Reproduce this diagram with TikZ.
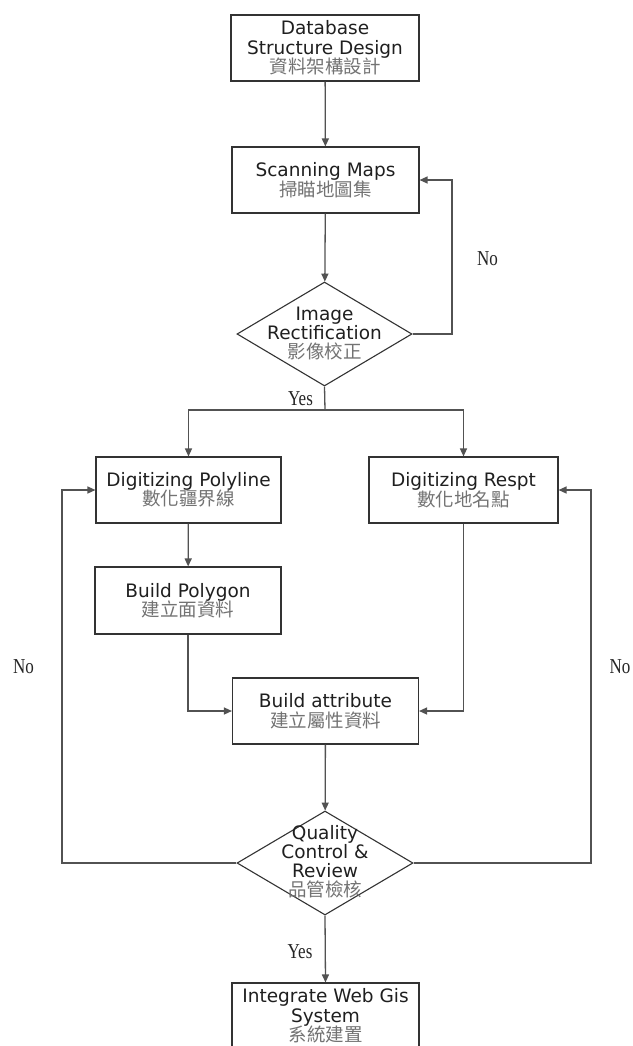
\documentclass[tikz,border=0pt]{standalone}
\usepackage{fontspec}
\setmainfont{DejaVu Sans}
\newfontfamily\cjk{Noto Sans CJK TC}
\newfontfamily\lblfont{Liberation Serif}
\usetikzlibrary{arrows.meta,shapes.geometric}

% Chinese subtitle inside a step
\newcommand{\zh}[1]{{\cjk\color{black!55}#1}}
% tall narrow serif answer labels
\newcommand{\ans}[1]{\scalebox{1}[1.25]{#1}}

\tikzset{
  stepbox/.style={draw=black!80, line width=1.1pt, fill=white,
    minimum width=187pt, minimum height=66pt, inner sep=0pt,
    align=center, text=black!88, font=\fontsize{18.5}{19.5}\selectfont},
  decision/.style={diamond, draw=black!80, line width=1.1pt, fill=white,
    minimum width=176pt, minimum height=104pt, inner sep=0pt},
  dtext/.style={inner sep=0pt, align=center, text=black!88,
    font=\fontsize{18.5}{19}\selectfont},
  flow/.style={draw=black!68, line width=1.3pt},
  arr/.style={flow, -{Triangle[length=8pt,width=7pt]}},
  answer/.style={inner sep=0pt, text=black!85, font=\lblfont\fontsize{17}{20}\selectfont}
}

\begin{document}
\begin{tikzpicture}[x=1pt,y=-1pt]
  \useasboundingbox (0,0) rectangle (632,1046);
  \clip (0,0) rectangle (632,1046);
  \fill[white] (0,0) rectangle (632,1046);

  % process steps
  \node[stepbox, minimum width=188pt] (db) at (325,48) {Database\\Structure Design\\\zh{資料架構設計}};
  \node[stepbox] (scan) at (325.5,180) {Scanning Maps\\\zh{掃瞄地圖集}};
  \node[decision, minimum width=175pt] (rect) at (324.5,334) {};
  \node[dtext] (rect-t) at (rect.center) {Image\\Rectification\\\zh{影像校正}};

  \node[stepbox, minimum width=185pt] (poly) at (188.5,490) {Digitizing Polyline\\\zh{數化疆界線}};
  \node[stepbox, minimum width=189pt] (respt) at (463.5,490) {Digitizing Respt\\\zh{數化地名點}};
  \node[stepbox, minimum width=186pt, minimum height=67pt] (bpoly) at (188,600.5) {Build Polygon\\\zh{建立面資料}};
  \node[stepbox, minimum width=186pt] (battr) at (325.5,711) {Build attribute\\\zh{建立屬性資料}};

  \node[decision] (qc) at (325,863) {};
  \node[dtext] (qc-t) at (325,862) {Quality\\Control \&\\Review\\\zh{品管檢核}};

  \node[stepbox] (web) at (325.5,1016) {Integrate Web Gis\\System\\\zh{系統建置}};

  % routing points
  \coordinate (split) at (325,410);
  \coordinate (topx) at (452,0);
  \coordinate (leftx) at (62,0);
  \coordinate (rightx) at (591,0);

  % connectors
  \draw[arr] (db) -- (scan);
  \draw[arr] (scan) -- (rect);
  \draw[arr] (rect.east) -- (rect.east -| topx) |- (scan.east);
  \draw[flow] (rect.south) -- (split);
  \draw[arr] (split) -| (poly.north);
  \draw[arr] (split) -| (respt.north);
  \draw[arr] (poly) -- (bpoly);
  \draw[arr] (bpoly.south) |- (battr.west);
  \draw[arr] (respt.south) |- (battr.east);
  \draw[arr] (battr) -- (qc);
  \draw[arr] (qc.west) -- (qc.west -| leftx) |- (poly.west);
  \draw[arr] (qc.east) -- (qc.east -| rightx) |- (respt.east);
  \draw[arr] (qc.south) -- (web.north);

  % answers
  \node[answer] (no-top) at (487.5,259) {\ans{No}};
  \node[answer] (yes-top) at (300.5,399) {\ans{Yes}};
  \node[answer] (no-left) at (23.5,667) {\ans{No}};
  \node[answer] (no-right) at (620,667) {\ans{No}};
  \node[answer] (yes-bottom) at (300,952) {\ans{Yes}};
\end{tikzpicture}
\end{document}
